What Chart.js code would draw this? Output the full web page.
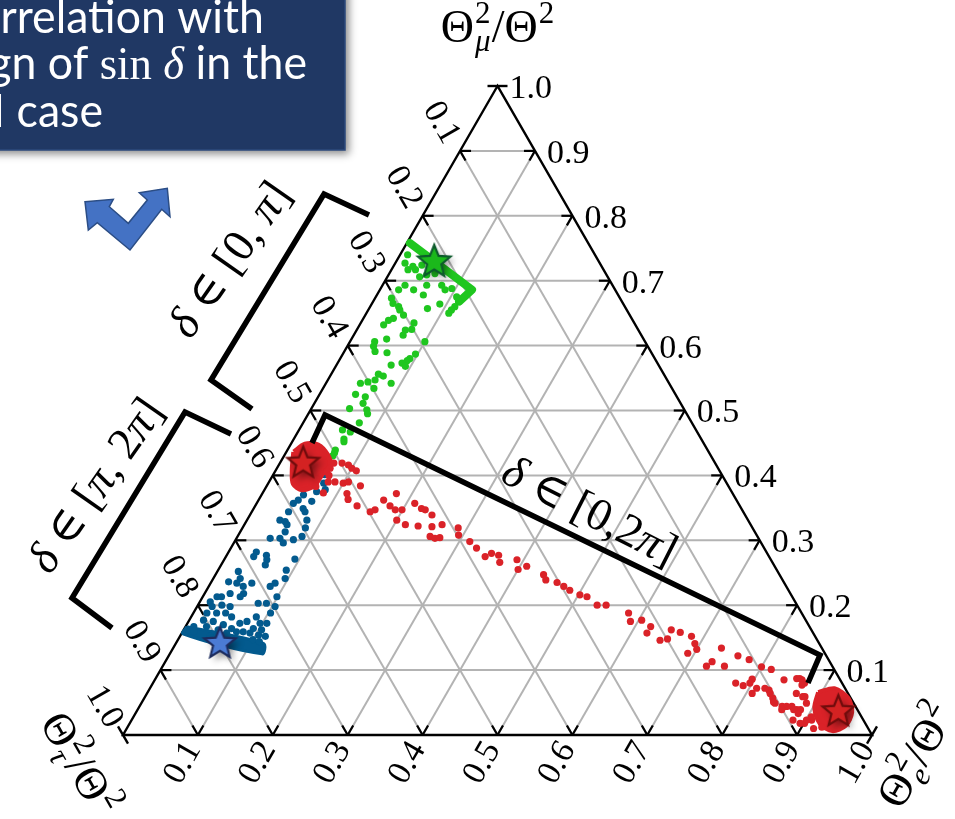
<!DOCTYPE html>
<html><head><meta charset="utf-8">
<script src="https://cdn.jsdelivr.net/npm/chart.js@4.4.1/dist/chart.umd.min.js"></script>
<style>html,body{margin:0;padding:0;background:#fff;overflow:hidden}canvas{display:block}</style>
</head><body>
<canvas id="c" width="955" height="819"></canvas>
<script>
// ---- tick values / labels ----
const tickValues = [0.1,0.2,0.3,0.4,0.5,0.6,0.7,0.8,0.9,1.0];
const tickLabels = ['0.1','0.2','0.3','0.4','0.5','0.6','0.7','0.8','0.9','1.0'];

// ---- series: [Θe²/Θ², Θμ²/Θ²] (Θτ²/Θ² = 1 - both) ----
const greenBand = [[0.004,0.758],[0.123,0.686],[0.115,0.668]];
const greenPoints = [[0.010,0.740],[0.013,0.727],[0.022,0.717],[0.032,0.717],[0.026,0.722],[0.037,0.724],[0.049,0.722],[0.061,0.711],[0.051,0.709],[0.043,0.706],[0.030,0.693],[0.025,0.686],[0.045,0.686],[0.059,0.693],[0.062,0.678],[0.079,0.693],[0.087,0.686],[0.095,0.688],[0.108,0.675],[0.114,0.668],[0.113,0.660],[0.111,0.655],[0.110,0.650],[0.091,0.664],[0.078,0.657],[0.022,0.673],[0.028,0.665],[0.038,0.660],[0.042,0.655],[0.051,0.647],[0.040,0.642],[0.035,0.639],[0.032,0.632],[0.071,0.635],[0.073,0.625],[0.065,0.624],[0.066,0.616],[0.047,0.610],[0.033,0.606],[0.035,0.599],[0.041,0.591],[0.058,0.589],[0.100,0.606],[0.097,0.587],[0.093,0.580],[0.091,0.577],[0.086,0.573],[0.093,0.568],[0.073,0.570],[0.063,0.556],[0.071,0.553],[0.063,0.547],[0.055,0.544],[0.087,0.542],[0.046,0.542],[0.068,0.534],[0.048,0.525],[0.063,0.521],[0.065,0.511],[0.051,0.503],[0.075,0.501],[0.079,0.495],[0.075,0.481],[0.058,0.470],[0.070,0.467],[0.067,0.456],[0.064,0.439],[0.065,0.430],[0.065,0.435],[0.069,0.452]];
const greenStar = [[0.051,0.729]];

const blueBand = [[0.002,0.167],[0.117,0.141],[0.123,0.125],[0.002,0.156]];
const bluePoints = [[0.056,0.413],[0.069,0.401],[0.074,0.388],[0.081,0.378],[0.071,0.375],[0.056,0.370],[0.072,0.360],[0.053,0.362],[0.049,0.357],[0.066,0.349],[0.049,0.344],[0.071,0.344],[0.044,0.331],[0.052,0.329],[0.057,0.324],[0.080,0.331],[0.084,0.319],[0.060,0.313],[0.045,0.303],[0.058,0.303],[0.066,0.296],[0.077,0.301],[0.086,0.306],[0.037,0.282],[0.037,0.275],[0.053,0.277],[0.057,0.270],[0.059,0.262],[0.094,0.271],[0.091,0.254],[0.096,0.241],[0.086,0.234],[0.082,0.229],[0.028,0.252],[0.036,0.241],[0.035,0.234],[0.046,0.229],[0.023,0.236],[0.055,0.234],[0.034,0.218],[0.052,0.218],[0.050,0.213],[0.025,0.213],[0.019,0.213],[0.014,0.205],[0.020,0.198],[0.032,0.200],[0.044,0.198],[0.079,0.203],[0.090,0.203],[0.099,0.213],[0.104,0.198],[0.103,0.188],[0.018,0.188],[0.031,0.188],[0.043,0.188],[0.054,0.182],[0.019,0.177],[0.033,0.175],[0.049,0.170],[0.070,0.172],[0.078,0.175],[0.087,0.182],[0.097,0.172],[0.106,0.172],[0.091,0.157],[0.104,0.154],[0.114,0.152],[0.081,0.159],[0.072,0.159],[0.011,0.167],[0.028,0.167],[0.046,0.162],[0.060,0.157],[0.063,0.164],[0.092,0.164],[0.104,0.162],[0.015,0.160],[0.040,0.152],[0.068,0.150],[0.100,0.147],[0.110,0.144]];
const blueStar = [[0.059,0.141]];

const redBlobTop = [[0.010,0.436],[0.019,0.448],[0.037,0.447],[0.058,0.431],[0.069,0.415],[0.065,0.402],[0.063,0.384],[0.050,0.378],[0.034,0.387],[0.022,0.408]];
const redBlobBottom = [[0.895,0.066],[0.914,0.072],[0.940,0.057],[0.956,0.035],[0.958,0.014],[0.944,0.006],[0.922,0.017],[0.902,0.042]];
const redPoints = [[0.071,0.411],[0.072,0.419],[0.083,0.419],[0.093,0.416],[0.100,0.411],[0.108,0.407],[0.069,0.406],[0.079,0.390],[0.088,0.390],[0.100,0.388],[0.106,0.390],[0.125,0.384],[0.113,0.372],[0.119,0.363],[0.136,0.353],[0.158,0.344],[0.163,0.347],[0.167,0.362],[0.180,0.353],[0.179,0.372],[0.190,0.347],[0.199,0.347],[0.200,0.331],[0.215,0.324],[0.211,0.357],[0.233,0.322],[0.224,0.349],[0.230,0.347],[0.243,0.339],[0.252,0.321],[0.264,0.324],[0.257,0.306],[0.265,0.303],[0.271,0.304],[0.288,0.319],[0.294,0.308],[0.314,0.298],[0.328,0.288],[0.346,0.275],[0.352,0.280],[0.363,0.277],[0.370,0.266],[0.391,0.270],[0.400,0.255],[0.409,0.260],[0.438,0.247],[0.445,0.239],[0.462,0.235],[0.474,0.229],[0.485,0.223],[0.502,0.216],[0.513,0.213],[0.533,0.200],[0.545,0.200],[0.581,0.188],[0.590,0.175],[0.604,0.177],[0.621,0.167],[0.621,0.157],[0.644,0.146],[0.653,0.148],[0.651,0.162],[0.665,0.158],[0.683,0.152],[0.693,0.141],[0.700,0.132],[0.691,0.126],[0.732,0.134],[0.730,0.113],[0.726,0.106],[0.750,0.106],[0.760,0.122],[0.778,0.116],[0.778,0.080],[0.790,0.076],[0.797,0.086],[0.808,0.064],[0.800,0.105],[0.815,0.101],[0.828,0.069],[0.839,0.057],[0.846,0.049],[0.858,0.044],[0.840,0.085],[0.871,0.044],[0.880,0.039],[0.856,0.087],[0.870,0.080],[0.878,0.059],[0.883,0.023],[0.901,0.018],[0.908,0.023],[0.888,0.049],[0.885,0.039],[0.905,0.028],[0.864,0.085],[0.927,0.012],[0.081,0.373],[0.060,0.395],[0.066,0.383],[0.075,0.400],[0.860,0.087],[0.868,0.077],[0.867,0.064],[0.881,0.059],[0.876,0.039],[0.885,0.033],[0.901,0.023],[0.895,0.018],[0.917,0.010],[0.864,0.044],[0.860,0.039],[0.843,0.051],[0.832,0.064],[0.821,0.072],[0.810,0.072],[0.797,0.080]];
const redStars = [[0.031,0.419],[0.937,0.036]];

// ternary -> cartesian (x = e + μ/2, y = μ)
const toXY = a => a.map(([e,m]) => ({x: e + m/2, y: m}));

const GREEN = '#1fc61f', BLUE = '#035a8e', RED = '#da2228';

function makeStar(fill, stroke, R){
  const s = Math.ceil(R*2 + 22);
  const c = document.createElement('canvas'); c.width = s; c.height = s;
  const g = c.getContext('2d'); const cx = s/2, cy = s/2, r = R*0.44;
  g.beginPath();
  for (let i=0;i<10;i++){
    const a = -Math.PI/2 + i*Math.PI/5, rr = i%2 ? r : R;
    const px = cx + rr*Math.cos(a), py = cy + rr*Math.sin(a);
    i ? g.lineTo(px,py) : g.moveTo(px,py);
  }
  g.closePath();
  g.save(); g.shadowColor='rgba(0,0,0,0.45)'; g.shadowBlur=7; g.shadowOffsetX=4; g.shadowOffsetY=4;
  g.fillStyle=fill; g.fill(); g.restore();
  g.lineWidth=2.2; g.strokeStyle=stroke; g.lineJoin='miter'; g.stroke();
  return c;
}
const starGreen = makeStar('#1bb81b','#0d5a2c',17);
const starRed = makeStar('#d42222','#6e0c0c',16.5);
const starBlue = makeStar('#4b7bd4','#1d2c5e',16.5);

function pointsDS(data, color, order){
  return {data: toXY(data), pointRadius:3.6, pointHoverRadius:3.6, pointBackgroundColor:color, pointBorderWidth:0, showLine:false, clip:false, order};
}
function bandDS(data, color, w, order){
  return {data: toXY(data), showLine:true, borderColor:color, borderWidth:w, borderCapStyle:'round', borderJoinStyle:'round', pointRadius:0, clip:false, order, tension:0, fill:false};
}
function blobDS(data, color, w, order){
  const d = toXY(data); d.push(d[0]);
  return {data: d, showLine:true, borderColor:color, backgroundColor:color, borderWidth:w, borderJoinStyle:'round', pointRadius:0, clip:false, order, tension:0.3, fill:'shape'};
}
function starDS(data, img, order){
  return {data: toXY(data), pointStyle: img, pointRadius: 17, showLine:false, clip:false, order};
}

function mathText(ctx, parts, cx, cy, angle, size){
  const main = size + 'px "Liberation Serif", "DejaVu Serif", serif';
  const ss = Math.round(size*0.68);
  const scr = ss + 'px "Liberation Serif", serif';
  const scrI = 'italic ' + ss + 'px "Liberation Serif", serif';
  const widths = []; let w = 0;
  for (const p of parts){
    let pw;
    if (p.t !== undefined){ ctx.font = (p.italic?'italic ':'') + main; pw = ctx.measureText(p.t).width; }
    else { ctx.font = scr; const a = p.sup ? ctx.measureText(p.sup).width : 0; ctx.font = scrI; const b = p.sub ? ctx.measureText(p.sub).width : 0; pw = Math.max(a,b) + 2; }
    widths.push(pw); w += pw;
  }
  ctx.save(); ctx.translate(cx,cy); ctx.rotate(angle);
  ctx.textAlign='left'; ctx.textBaseline='alphabetic'; ctx.fillStyle='#000';
  let x = -w/2; const base = size*0.33;
  parts.forEach((p,i)=>{
    if (p.t !== undefined){ ctx.font = (p.italic?'italic ':'') + main; ctx.fillText(p.t, x, base); }
    else {
      if (p.sup){ ctx.font = scr; ctx.fillText(p.sup, x+1, base - size*0.42); }
      if (p.sub){ ctx.font = scrI; ctx.fillText(p.sub, x+1, base + size*0.2); }
    }
    x += widths[i];
  });
  ctx.restore();
}

const gridPlugin = {
  id:'ternGrid',
  beforeDatasetsDraw(chart){
    const ctx = chart.ctx, xs = chart.scales.x, ys = chart.scales.y;
    const P = (e,m) => ({x: xs.getPixelForValue(e + m/2), y: ys.getPixelForValue(m)});
    const lines = [];
    for (let k=1;k<=9;k++){
      const v = k/10;
      lines.push([P(0,v), P(1-v,v)]);        // constant μ
      lines.push([P(v,0), P(v,1-v)]);        // constant e
      lines.push([P(1-v,0), P(0,1-v)]);      // constant τ
    }
    ctx.save();
    ctx.strokeStyle='#b3b3b3'; ctx.lineWidth=2; ctx.lineCap='butt';
    lines.forEach(([a,b])=>{ ctx.beginPath(); ctx.moveTo(a.x,a.y); ctx.lineTo(b.x,b.y); ctx.stroke(); });
    ctx.strokeStyle='#000'; ctx.lineWidth=2.2;
    const L = 11;
    lines.forEach(([a,b])=>{
      const dx=b.x-a.x, dy=b.y-a.y, d=Math.hypot(dx,dy), ux=dx/d, uy=dy/d;
      ctx.beginPath(); ctx.moveTo(a.x,a.y); ctx.lineTo(a.x+ux*L,a.y+uy*L); ctx.stroke();
      ctx.beginPath(); ctx.moveTo(b.x,b.y); ctx.lineTo(b.x-ux*L,b.y-uy*L); ctx.stroke();
    });
    const T=P(0,1), Lv=P(0,0), R=P(1,0);
    ctx.lineWidth=2.4; ctx.lineJoin='miter';
    ctx.beginPath(); ctx.moveTo(T.x,T.y); ctx.lineTo(Lv.x,Lv.y); ctx.lineTo(R.x,R.y); ctx.closePath(); ctx.stroke();
    const c60=0.5*10, s60=0.866*10;
    ctx.beginPath(); ctx.moveTo(T.x-10,T.y); ctx.lineTo(T.x+10,T.y); ctx.stroke();
    ctx.beginPath(); ctx.moveTo(Lv.x-c60,Lv.y-s60); ctx.lineTo(Lv.x+c60,Lv.y+s60); ctx.stroke();
    ctx.beginPath(); ctx.moveTo(R.x+c60,R.y-s60); ctx.lineTo(R.x-c60,R.y+s60); ctx.stroke();
    ctx.restore();
  }
};

const decoPlugin = {
  id:'deco',
  afterDraw(chart){
    const ctx = chart.ctx, xs = chart.scales.x, ys = chart.scales.y;
    const P = (e,m) => ({x: xs.getPixelForValue(e + m/2), y: ys.getPixelForValue(m)});
    const F = '34px "Liberation Serif", "DejaVu Serif", serif';
    ctx.save(); ctx.fillStyle='#000'; ctx.font=F;
    tickValues.forEach((v,i)=>{
      let p = P(1-v, v);
      ctx.textAlign='left'; ctx.textBaseline='middle';
      ctx.fillText(tickLabels[i], p.x+12, p.y+3);
      p = P(0, 1-v);
      ctx.save(); ctx.translate(p.x-19, p.y-28); ctx.rotate(Math.PI/3);
      ctx.textAlign='center'; ctx.fillText(tickLabels[i],0,0); ctx.restore();
      p = P(v, 0);
      ctx.save(); ctx.translate(p.x-15, p.y+28); ctx.rotate(-Math.PI/3);
      ctx.textAlign='center'; ctx.fillText(tickLabels[i],0,0); ctx.restore();
    });
    ctx.restore();

    mathText(ctx,[{t:'Θ'},{sup:'2',sub:'μ'},{t:'/Θ'},{sup:'2'}], 498, 27, 0, 46);
    mathText(ctx,[{t:'Θ'},{sup:'2',sub:'τ'},{t:'/Θ'},{sup:'2'}], 80, 764, Math.PI/3, 45);
    mathText(ctx,[{t:'Θ'},{sup:'2',sub:'e'},{t:'/Θ'},{sup:'2'}], 916, 755, -Math.PI/3, 45);

    ctx.save(); ctx.strokeStyle='#000'; ctx.lineWidth=5.5; ctx.lineJoin='miter'; ctx.lineCap='butt';
    const br = [
      [[369,215],[324,194],[211,380],[252,409]],
      [[231,434],[185,412],[72,598],[112,628]],
      [[312,443],[325,415],[820,655],[808,683]]
    ];
    br.forEach(b=>{ ctx.beginPath(); b.forEach((q,i)=> i?ctx.lineTo(q[0],q[1]):ctx.moveTo(q[0],q[1])); ctx.stroke(); });
    ctx.restore();
    mathText(ctx,[{t:'δ',italic:true},{t:' ∈ [0, '},{t:'π',italic:true},{t:']'}], 229, 259, -55*Math.PI/180, 46);
    mathText(ctx,[{t:'δ',italic:true},{t:' ∈ ['},{t:'π',italic:true},{t:', 2'},{t:'π',italic:true},{t:']'}], 95, 485, -55*Math.PI/180, 46);
    mathText(ctx,[{t:'δ',italic:true},{t:' ∈ [0,2'},{t:'π',italic:true},{t:']'}], 590, 510, 27*Math.PI/180, 46);

    // blue text box
    ctx.save();
    ctx.shadowColor='rgba(0,0,0,0.45)'; ctx.shadowBlur=8; ctx.shadowOffsetX=4; ctx.shadowOffsetY=4;
    ctx.fillStyle='#203864'; ctx.fillRect(-20,-20,365,170);
    ctx.restore();
    ctx.save(); ctx.strokeStyle='#2d4a7c'; ctx.lineWidth=1.5; ctx.strokeRect(-20,-20,365,170); ctx.restore();
    ctx.save(); ctx.fillStyle='#ffffff'; ctx.textBaseline='alphabetic';
    const SX = 0.95;
    const SANS='47px Lato, "Open Sans", sans-serif', SER='47px "Liberation Serif", serif', SERI='italic 47px "Liberation Serif", serif';
    function lineRight(pieces, right, y){
      let w=0; pieces.forEach(p=>{ctx.font=p[1]; w+=ctx.measureText(p[0]).width;});
      ctx.save(); ctx.translate(right, y); ctx.scale(SX,1);
      let x=-w; ctx.textAlign='left';
      pieces.forEach(p=>{ctx.font=p[1]; ctx.fillText(p[0],x,0); x+=ctx.measureText(p[0]).width;});
      ctx.restore();
    }
    lineRight([['Correlation with',SANS]], 264, 33);
    lineRight([['sign of ',SANS],['sin',SER],[' ',SANS],['δ',SERI],[' in the',SANS]], 307, 79);
    lineRight([['IH case',SANS]], 103, 127);
    ctx.restore();

    const arr=[[85,201.7],[113.3,199.3],[109.3,206.7],[128.3,223.3],[147.3,200],[139.3,192.7],[167.3,188.3],[170,216.7],[161.7,209.3],[130,250],[97.3,222.7],[88.3,230]];
    ctx.save(); ctx.beginPath(); arr.forEach((q,i)=> i?ctx.lineTo(q[0],q[1]):ctx.moveTo(q[0],q[1])); ctx.closePath();
    ctx.fillStyle='#4472c4'; ctx.fill(); ctx.strokeStyle='#2b4d85'; ctx.lineWidth=1.5; ctx.stroke(); ctx.restore();
  }
};

new Chart(document.getElementById('c'), {
  type:'scatter',
  data:{ datasets:[
    starDS(greenStar, starGreen, 0),
    starDS(blueStar, starBlue, 0),
    starDS(redStars, starRed, 0),
    pointsDS(redPoints, RED, 2),
    blobDS(redBlobTop, RED, 5, 3),
    blobDS(redBlobBottom, RED, 4, 3),
    pointsDS(bluePoints, BLUE, 4),
    blobDS(blueBand, BLUE, 3, 5),
    pointsDS(greenPoints, GREEN, 6),
    bandDS(greenBand, GREEN, 8, 7)
  ]},
  options:{
    responsive:false, animation:false, devicePixelRatio:1, events:[],
    layout:{padding:{left:123,right:83,top:86,bottom:84}},
    scales:{ x:{type:'linear',min:0,max:1,display:false}, y:{type:'linear',min:0,max:1,display:false} },
    plugins:{ legend:{display:false}, tooltip:{enabled:false} }
  },
  plugins:[gridPlugin, decoPlugin]
});
</script>
</body></html>
